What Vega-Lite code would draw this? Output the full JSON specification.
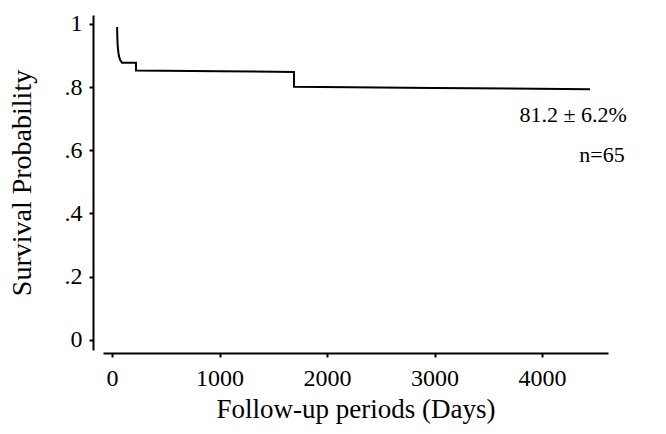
{
  "$schema": "https://vega.github.io/schema/vega-lite/v6.json",
  "width": 505,
  "height": 335,
  "autosize": {"type": "none"},
  "padding": {"left": 103, "top": 15, "right": 58, "bottom": 84},
  "background": "white",
  "config": {
    "view": {"stroke": null},
    "font": "Liberation Serif",
    "axis": {"grid": false, "domainColor": "black", "tickColor": "black", "labelColor": "black", "titleColor": "black", "labelFont": "Liberation Serif", "titleFont": "Liberation Serif", "titleFontWeight": "normal", "domainWidth": 2, "tickWidth": 2}
  },
  "layer": [
    {
      "data": {"values": [
        {"t": 47, "s": 0.99},
        {"t": 49, "s": 0.96},
        {"t": 52, "s": 0.935},
        {"t": 57, "s": 0.915},
        {"t": 64, "s": 0.898},
        {"t": 75, "s": 0.886},
        {"t": 93, "s": 0.877},
        {"t": 223, "s": 0.877},
        {"t": 223, "s": 0.852},
        {"t": 1000, "s": 0.850},
        {"t": 1693, "s": 0.848},
        {"t": 1693, "s": 0.801},
        {"t": 3000, "s": 0.797},
        {"t": 4447, "s": 0.793}
      ]},
      "mark": {"type": "line", "color": "black", "strokeWidth": 2, "interpolate": "linear"},
      "encoding": {
        "x": {"field": "t", "type": "quantitative", "sort": null,
          "scale": {"domain": [-84, 4614], "nice": false, "zero": false},
          "axis": {"values": [0, 1000, 2000, 3000, 4000], "format": "d", "title": "Follow-up periods (Days)", "labelFontSize": 24, "titleFontSize": 27, "offset": 3, "tickSize": 4, "labelPadding": 9, "titlePadding": 6, "labelFlush": false}},
        "y": {"field": "s", "type": "quantitative",
          "scale": {"domain": [-0.032, 1.028], "nice": false, "zero": false},
          "axis": {"values": [0, 0.2, 0.4, 0.6, 0.8, 1], "title": "Survival Probability", "labelFontSize": 24, "titleFontSize": 28, "offset": 10, "tickSize": 4, "labelPadding": 7, "titlePadding": 28,
            "labelExpr": "datum.value == 0 ? '0' : datum.value == 1 ? '1' : '.' + round(datum.value * 10)"}},
        "order": {"field": "t", "type": "quantitative"}
      }
    },
    {
      "data": {"values": [
        {"t": 4790, "s": 0.712, "label": "81.2 ± 6.2%"},
        {"t": 4770, "s": 0.585, "label": "n=65"}
      ]},
      "mark": {"type": "text", "align": "right", "baseline": "middle", "fontSize": 22, "font": "Liberation Serif", "color": "black", "clip": false},
      "encoding": {
        "x": {"field": "t", "type": "quantitative"},
        "y": {"field": "s", "type": "quantitative"},
        "text": {"field": "label"}
      }
    }
  ]
}
